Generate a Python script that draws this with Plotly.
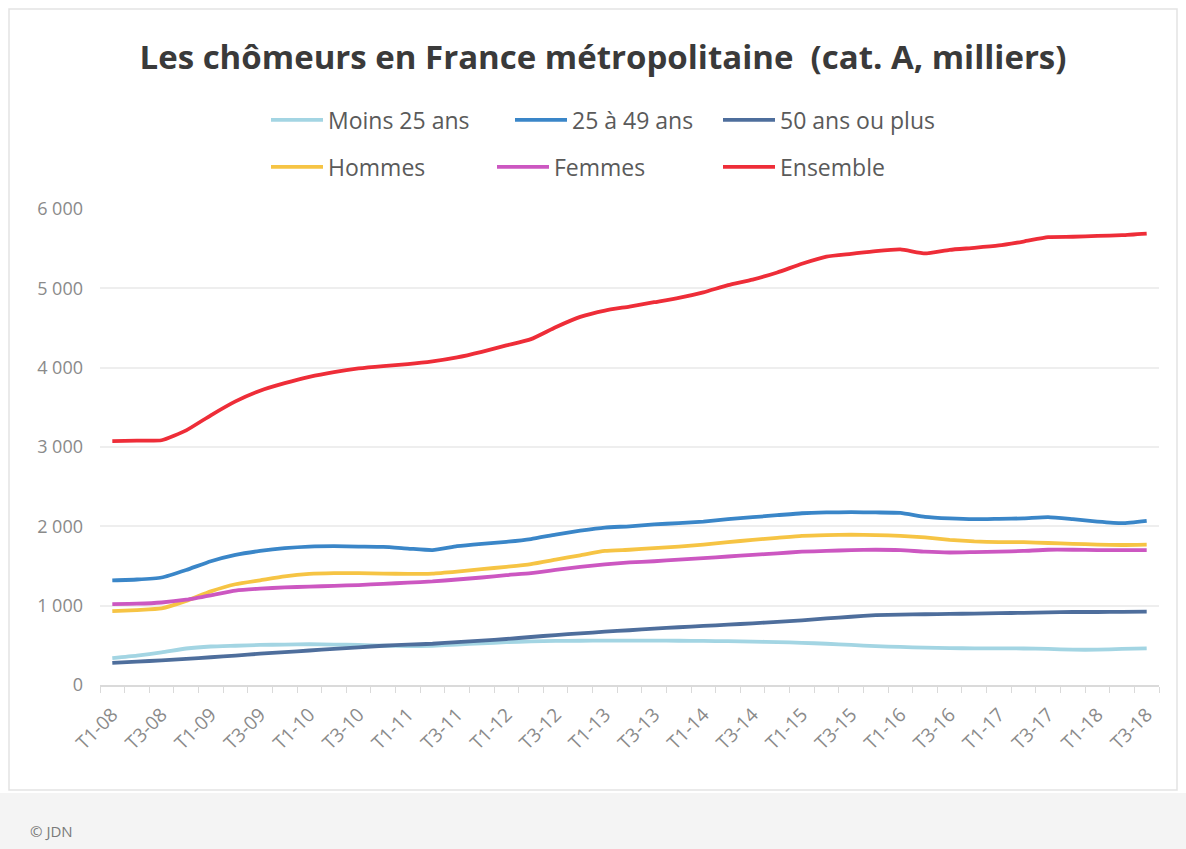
import plotly.graph_objects as go

# ---- Data (milliers) ----
quarters = [
    "T1-08", "T2-08", "T3-08", "T4-08", "T1-09", "T2-09", "T3-09", "T4-09",
    "T1-10", "T2-10", "T3-10", "T4-10", "T1-11", "T2-11", "T3-11", "T4-11",
    "T1-12", "T2-12", "T3-12", "T4-12", "T1-13", "T2-13", "T3-13", "T4-13",
    "T1-14", "T2-14", "T3-14", "T4-14", "T1-15", "T2-15", "T3-15", "T4-15",
    "T1-16", "T2-16", "T3-16", "T4-16", "T1-17", "T2-17", "T3-17", "T4-17",
    "T1-18", "T2-18", "T3-18",
]

moins_25 = [340, 370, 410, 460, 485, 495, 505, 510, 515, 510, 505, 495, 490, 495, 510,
            525, 540, 550, 555, 558, 560, 560, 560, 558, 555, 552, 548, 540, 532, 520,
            505, 490, 480, 470, 465, 462, 462, 460, 455, 445, 445, 455, 462]

de_25_a_49 = [1320, 1330, 1355, 1450, 1560, 1640, 1690, 1725, 1745, 1750, 1745, 1740, 1720,
              1700, 1750, 1780, 1805, 1840, 1895, 1945, 1985, 2000, 2025, 2040, 2060, 2090,
              2115, 2140, 2165, 2175, 2178, 2175, 2170, 2120, 2100, 2090, 2095, 2100, 2115,
              2090, 2060, 2040, 2070]

plus_50 = [280, 295, 310, 330, 350, 370, 395, 415, 435, 455, 475, 495, 508, 520, 540, 560,
           580, 605, 630, 650, 672, 690, 710, 728, 745, 760, 778, 795, 815, 840, 860, 880,
           888, 892, 896, 900, 905, 910, 915, 920, 920, 922, 925]

hommes = [930, 945, 965, 1060, 1180, 1270, 1320, 1370, 1400, 1410, 1410, 1405, 1400, 1405,
          1430, 1460, 1490, 1525, 1580, 1635, 1690, 1705, 1725, 1745, 1770, 1800, 1830, 1855,
          1880, 1890, 1895, 1890, 1880, 1860, 1830, 1810, 1800, 1800, 1790, 1780, 1770, 1765,
          1770]

femmes = [1020, 1025, 1040, 1075, 1130, 1190, 1215, 1230, 1240, 1250, 1260, 1275, 1290, 1305,
          1330, 1355, 1385, 1410, 1450, 1490, 1520, 1545, 1560, 1580, 1600, 1620, 1640, 1660,
          1680, 1690, 1700, 1705, 1700, 1680, 1670, 1675, 1680, 1690, 1705, 1705, 1700, 1700,
          1700]

ensemble = [3075, 3080, 3085, 3210, 3400, 3575, 3710, 3805, 3885, 3945, 3990, 4020, 4045, 4080,
            4130, 4200, 4280, 4360, 4510, 4640, 4720, 4770, 4825, 4880, 4950, 5040, 5110, 5200,
            5310, 5400, 5435, 5470, 5490, 5440, 5485, 5510, 5540, 5590, 5645, 5650, 5660, 5670,
            5690]

y_ticks = [0, 1000, 2000, 3000, 4000, 5000, 6000]

series = [
    ("Moins 25 ans", moins_25, "#A3D5E3", "legend", 177),
    ("25 à 49 ans", de_25_a_49, "#3A86C8", "legend", 141),
    ("50 ans ou plus", plus_50, "#4E6E9C", "legend", 160),
    ("Hommes", hommes, "#F6C444", "legend2", 159),
    ("Femmes", femmes, "#CC57C1", "legend2", 159),
    ("Ensemble", ensemble, "#EE2D38", "legend2", 140),
]

x_idx = list(range(len(quarters)))

fig = go.Figure()
for name, vals, color, leg, lw in series:
    fig.add_trace(go.Scatter(
        x=x_idx, y=vals, name=name, mode="lines",
        line=dict(color=color, width=3.8, shape="spline", smoothing=0.5),
        legend=leg, legendwidth=lw,
        hovertemplate="%{text}: %{y}<extra>" + name + "</extra>",
        text=quarters,
    ))

# Geometry helpers (figure pixels -> paper coords)
W, H = 1186, 849
ML, MR, MT, MB = 100, 27, 209, 164
PW, PH = W - ML - MR, H - MT - MB


def px(xp):
    return (xp - ML) / PW


def py(yp):
    return (H - MB - yp) / PH


grey_txt = "#8A8A8A"

fig.update_layout(
    width=W, height=H,
    margin=dict(l=ML, r=MR, t=MT, b=MB),
    paper_bgcolor="white",
    plot_bgcolor="rgba(0,0,0,0)",
    separators=", ",
    font=dict(family="Open Sans, sans-serif", color=grey_txt),
    title=dict(
        text="<b>Les chômeurs en France métropolitaine  (cat. A, milliers)</b>",
        x=603 / W, xanchor="center", y=1 - 57 / H, yanchor="middle",
        font=dict(family="Open Sans, sans-serif", size=33, color="#3A3A3A"),
    ),
    legend=dict(
        orientation="h", x=px(266), xanchor="left", y=py(120), yanchor="middle",
        itemwidth=52, font=dict(size=23, color="#5A5A5A"),
        bgcolor="rgba(0,0,0,0)", borderwidth=0, itemclick=False, itemdoubleclick=False,
    ),
    legend2=dict(
        orientation="h", x=px(266), xanchor="left", y=py(167), yanchor="middle",
        itemwidth=52, font=dict(size=23, color="#5A5A5A"),
        bgcolor="rgba(0,0,0,0)", borderwidth=0, itemclick=False, itemdoubleclick=False,
    ),
    showlegend=True,
    xaxis=dict(
        range=[-0.5, len(quarters) - 0.5],
        tickmode="array", tickvals=x_idx[::2], ticktext=quarters[::2],
        tickangle=-45, tickfont=dict(size=19, color=grey_txt),
        ticklabelstandoff=9,
        showgrid=False, zeroline=False,
        showline=True, linecolor="#DADADA", linewidth=2,
        ticks="",
        minor=dict(tickmode="array", tickvals=[i - 0.5 for i in range(len(quarters) + 1)],
                   ticks="outside", ticklen=6, tickcolor="#DADADA", tickwidth=1, showgrid=False),
        fixedrange=True,
    ),
    yaxis=dict(
        range=[0, 6000], tickmode="array", tickvals=y_ticks,
        tickformat=",d", tickfont=dict(size=18, color=grey_txt),
        showgrid=True, gridcolor="#EEEEEE", gridwidth=2,
        zeroline=False, showline=False, ticks="", ticklabelstandoff=16,
        fixedrange=True,
    ),
    shapes=[
        # chart frame
        dict(type="rect", xref="paper", yref="paper", layer="below",
             x0=px(9), x1=px(1177), y0=py(790), y1=py(9),
             line=dict(color="#E3E3E3", width=1.5), fillcolor="white"),
        # footer band
        dict(type="rect", xref="paper", yref="paper", layer="below",
             x0=px(0), x1=px(W), y0=py(H), y1=py(793),
             line=dict(width=0), fillcolor="#F4F4F4"),
    ],
    annotations=[
        dict(text="© JDN", xref="paper", yref="paper", x=px(28), y=py(831),
             xanchor="left", yanchor="middle", showarrow=False,
             font=dict(size=15, color="#7A7A7A")),
    ],
)

fig.write_html(
    "out.html",
    config={"displayModeBar": False},
    post_script="document.body.style.margin='0';document.body.style.padding='0';",
)
